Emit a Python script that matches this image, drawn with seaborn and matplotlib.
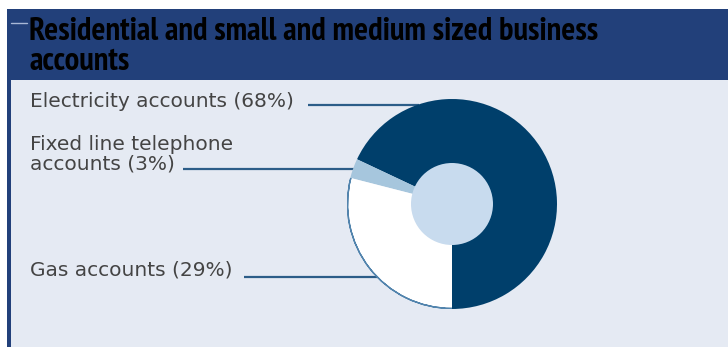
import numpy as np
import matplotlib
matplotlib.use("Agg")
import matplotlib.pyplot as plt
import seaborn as sns
from matplotlib import font_manager
from matplotlib.patches import Rectangle, Circle, Wedge

sns.set_theme(style="white")
plt.rcParams['font.family'] = ['DejaVu Sans']

# ---- data ----
categories = ["Electricity accounts", "Fixed line telephone\naccounts", "Gas accounts"]
shares = [68, 3, 29]
colors = ["#003f6b", "#a6c6dd", "#ffffff"]
title_lines = ["Residential and small and medium sized business", "accounts"]

W, H = 728, 347
fig = plt.figure(figsize=(W / 100, H / 100), dpi=100)
fig.patch.set_facecolor("white")

bg = fig.add_axes([0, 0, 1, 1])
bg.set_xlim(0, W)
bg.set_ylim(H, 0)
bg.axis("off")

header = "#22407a"
bg.add_patch(Rectangle((7, 9), W - 7, 71, color=header, lw=0, zorder=0))
bg.add_patch(Rectangle((7, 9), 4, H - 9, color=header, lw=0, zorder=0))
bg.add_patch(Rectangle((11, 80), W - 11, H - 80, color="#e5eaf3", lw=0, zorder=0))
bg.plot([11, 27], [23, 23], color="#a9b8d6", lw=1, zorder=1)

# title font: prefer a narrow/semi-condensed bold family over an extra-condensed one
fonts = font_manager.fontManager.ttflist
def is_bold(f):
    return f.weight in ("bold", 700, "semibold", 600)
tfam = None
for key in ("Narrow", "SemiCondensed", "Semi Condensed", "Condensed"):
    for f in fonts:
        if key in f.name and is_bold(f):
            tfam = f.name
            break
    if tfam:
        break
if tfam is None:
    tfam = "Lato"

t1 = bg.text(29, 40, title_lines[0], fontsize=23.5, fontweight="bold", family=tfam,
             color="black", va="baseline", ha="left", zorder=2)
t2 = bg.text(29, 70, title_lines[1], fontsize=23.5, fontweight="bold", family=tfam,
             color="black", va="baseline", ha="left", zorder=2)
fig.canvas.draw()
w = t1.get_window_extent().width
fs_t = min(23.5, 23.5 * 638.0 / w)
t1.set_fontsize(fs_t)
t2.set_fontsize(fs_t)

# pie geometry (pixels)
cx, cy, R = 452, 204, 105
r_in = 41
pax = fig.add_axes([(cx - R) / W, (H - cy - R) / H, 2 * R / W, 2 * R / H])
wedges, _ = pax.pie(shares, colors=colors, startangle=270, counterclock=True,
                    radius=1.0, wedgeprops=dict(linewidth=0))
pax.set_xlim(-1, 1)
pax.set_ylim(-1, 1)
pax.set_aspect("equal")
pax.axis("off")
g = wedges[2]
pax.add_patch(Wedge((0, 0), 0.995, g.theta1, g.theta2, width=0.0,
                    fill=False, edgecolor="#5284ad", lw=1.0))
pax.add_patch(Circle((0, 0), r_in / R, color="#c8dbee", lw=0, zorder=5))

# labels with leader lines
line_c = "#2c5d88"
text_c = "#444444"
fs = 14.5
label_specs = [
    (30, 101, 105, 308),
    (30, 154, 169, 183),
    (30, 270, 277, 244),
]
for (cat, val), (tx, ty, ly, lx) in zip(zip(categories, shares), label_specs):
    lab = f"{cat} ({val}%)"
    bg.text(tx, ty, lab, fontsize=fs, color=text_c, va="center", ha="left",
            linespacing=1.0, zorder=2)
    ex = cx - np.sqrt(R ** 2 - (ly - cy) ** 2)
    bg.plot([lx, ex + 2], [ly, ly], color=line_c, lw=1.6, zorder=3,
            solid_capstyle="butt")

fig.savefig("out.png", dpi=100, facecolor="white")
